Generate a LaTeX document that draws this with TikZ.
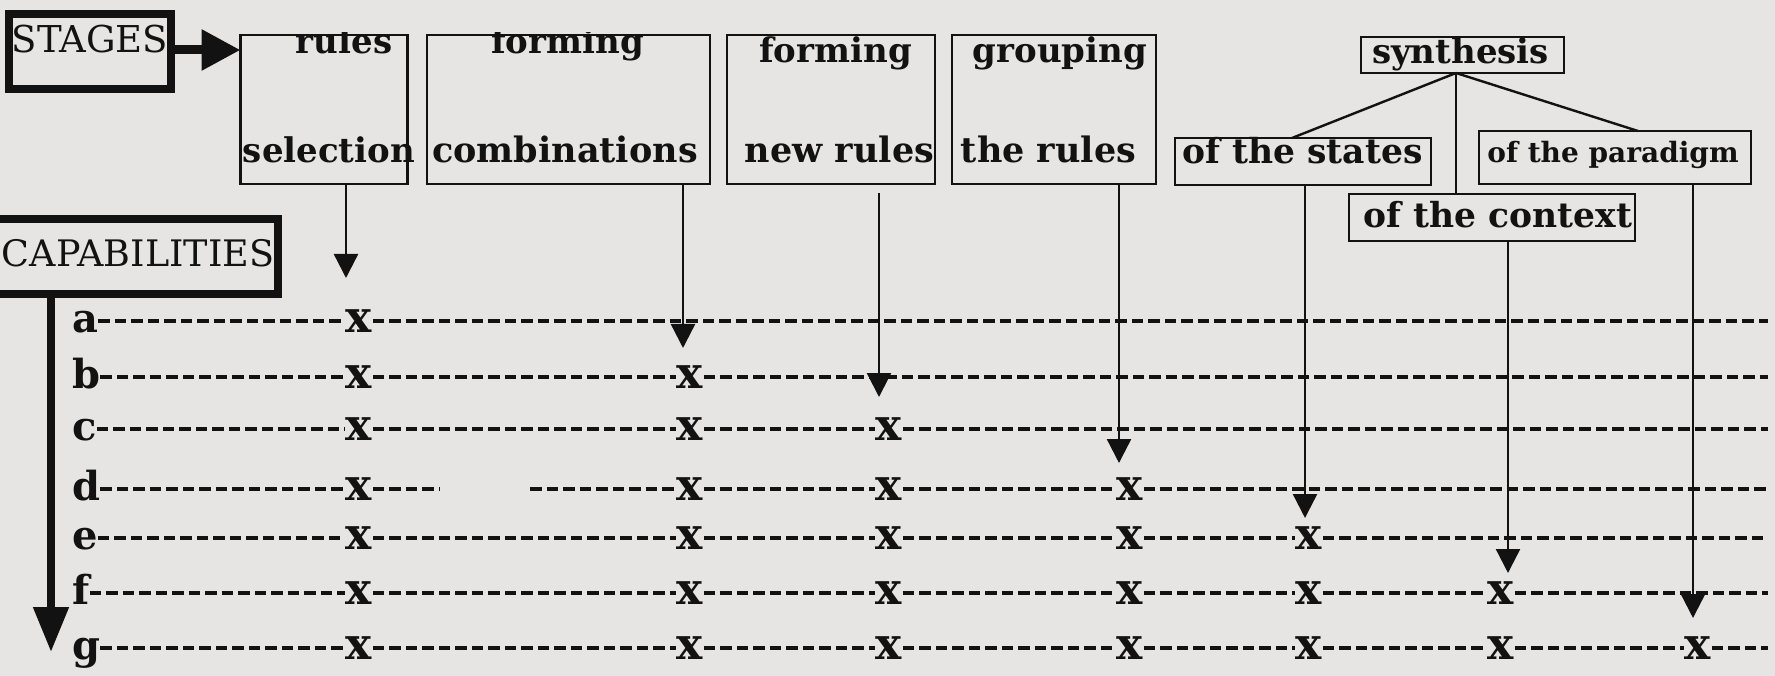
\documentclass[tikz,border=0pt]{standalone}
\usepackage{fontspec}
\setmainfont{DejaVu Serif}
\usetikzlibrary{arrows.meta}
\definecolor{bg}{RGB}{230,229,227}
\definecolor{ink}{RGB}{18,18,18}
\begin{document}
\begin{tikzpicture}[x=1pt,y=-1pt,
  box/.style={draw=ink, line width=2.2pt, inner sep=0pt, outer sep=0pt},
  heavy/.style={draw=ink, line width=8pt, inner sep=0pt, outer sep=0pt},
  txt/.style={text=ink, font=\bfseries\fontsize{34}{40}\selectfont, inner sep=0pt, anchor=base},
  conn/.style={draw=ink, line width=2.4pt},
  arr/.style={conn, -{Triangle[length=24pt,width=24pt]}},
  bigarr/.style={draw=ink, line width=9pt, -{Triangle[length=39pt,width=39pt]}},
  caparr/.style={draw=ink, line width=8pt, -{Triangle[length=45pt,width=34pt]}},
  dsh/.style={draw=ink, line width=3.4pt, dash pattern=on 11.5pt off 5pt},
  xmark/.style={text=ink, font=\bfseries\fontsize{44}{50}\selectfont, inner sep=0.5pt},
  rowlbl/.style={text=ink, font=\bfseries\fontsize{40}{46}\selectfont, inner sep=0pt, anchor=base west}
]
\fill[bg] (0,0) rectangle (1775,676);
\clip (0,0) rectangle (1775,676);

% stage boxes
\node[heavy, minimum width=162pt, minimum height=75pt] (stg) at (90,51.5) {};
\node[box, minimum width=167pt, minimum height=149pt] (b1) at (324,109.5) {};
\node[box, minimum width=283pt, minimum height=149pt] (b2) at (568.5,109.5) {};
\node[box, minimum width=208pt, minimum height=149pt] (b3) at (831,109.5) {};
\node[box, minimum width=204pt, minimum height=149pt] (b4) at (1054,109.5) {};
\node[box, minimum width=203pt, minimum height=36pt] (syn) at (1462.5,55) {};
\node[box, minimum width=256pt, minimum height=47pt] (sta) at (1303,161.5) {};
\node[box, minimum width=272pt, minimum height=53pt] (par) at (1615,157.5) {};
\node[box, minimum width=286pt, minimum height=47pt] (ctx) at (1492,217.5) {};
\node[heavy, minimum width=300pt, minimum height=75pt] (cap) at (128,256.5) {};

% texts
\node[txt, font=\fontsize{37}{42}\selectfont] (tstg) at (90,53) {STAGES};
\node[txt, font=\fontsize{36.5}{42}\selectfont] (tcap) at (138,267) {CAPABILITIES};
\begin{scope}
  \clip (0,33) rectangle (1775,676);
  \node[txt] (t1a) at (344,54) {rules};
  \node[txt] (t2a) at (567.5,54) {forming};
\end{scope}
\node[txt] (t1b) at (329,163) {selection};
\node[txt, font=\bfseries\fontsize{35}{40}\selectfont] (t2b) at (565,163) {combinations};
\node[txt] (t3a) at (835.5,63) {forming};
\node[txt, font=\bfseries\fontsize{35}{40}\selectfont] (t3b) at (839.5,163) {new rules};
\node[txt] (t4a) at (1060,63) {grouping};
\node[txt, font=\bfseries\fontsize{35}{40}\selectfont] (t4b) at (1048.5,163) {the rules};
\node[txt] (tsyn) at (1460.5,64) {synthesis};
\node[txt, font=\bfseries\fontsize{34.5}{40}\selectfont] (tsta) at (1302.5,164) {of the states};
\node[txt, font=\bfseries\fontsize{28}{33}\selectfont] (tpar) at (1613,163) {of the paradigm};
\node[txt, font=\bfseries\fontsize{34.5}{40}\selectfont] (tctx) at (1498,228) {of the context};

% synthesis tree
\coordinate (sp) at (1456,73);
\draw[conn] (sp) -- (sta.north -| 1292,0);
\draw[conn] (sp) -- (par.north -| 1638,0);
\draw[conn] (sp) -- (ctx.north -| sp);

% heavy arrows
\draw[bigarr] (stg.east |- 0,50) -- (b1.west |- 0,50);
\coordinate (capTip) at (51,652);
\draw[caparr] (cap.south -| capTip) -- (capTip);

% thin arrows
\coordinate (tip1) at (346,278);
\coordinate (tip2) at (683,348);
\coordinate (s3) at (879,193);
\coordinate (tip3) at (879,397);
\coordinate (tip4) at (1119,463);
\coordinate (tip5) at (1305,518);
\coordinate (tip6) at (1508,573);
\coordinate (tip7) at (1693,618);
\draw[arr] (b1.south -| tip1) -- (tip1);
\draw[arr] (b2.south -| tip2) -- (tip2);
\draw[arr] (s3) -- (tip3);
\draw[arr] (b4.south -| tip4) -- (tip4);
\draw[arr] (sta.south -| tip5) -- (tip5);
\draw[arr] (ctx.south -| tip6) -- (tip6);
\draw[arr] (par.south -| tip7) -- (tip7);

% rows
\coordinate (dgapL) at (439,489);
\coordinate (dgapR) at (530,489);
\foreach \r/\y/\n [count=\i] in {a/321/1,b/377/2,c/429/3,d/489/4,e/538/5,f/593/6,g/648/7} {
  \node[rowlbl] (l\r) at (72,\y+11) {\r};
  \foreach \c [count=\k] in {359,690,889,1130,1309,1501,1698} {
    \ifnum\k>\n\relax\else
      \node[xmark] (x\r\k) at (\c,\y) {x};
    \fi
  }
  \coordinate (e\r) at (1768,\y);
  \draw[dsh] (l\r.east |- x\r1.west) -- (x\r1.west);
  \draw[dsh] (x\r\n.east) -- (e\r);
  \ifnum\n>1
    \foreach \k in {2,...,\n} {
      \pgfmathtruncatemacro\km{\k-1}
      \ifnum\i=4
        \ifnum\k=2
          \draw[dsh] (x\r1.east) -- (dgapL);
          \draw[dsh] (dgapR) -- (x\r2.west);
        \else
          \draw[dsh] (x\r\km.east) -- (x\r\k.west);
        \fi
      \else
        \draw[dsh] (x\r\km.east) -- (x\r\k.west);
      \fi
    }
  \fi
}
\end{tikzpicture}
\end{document}
